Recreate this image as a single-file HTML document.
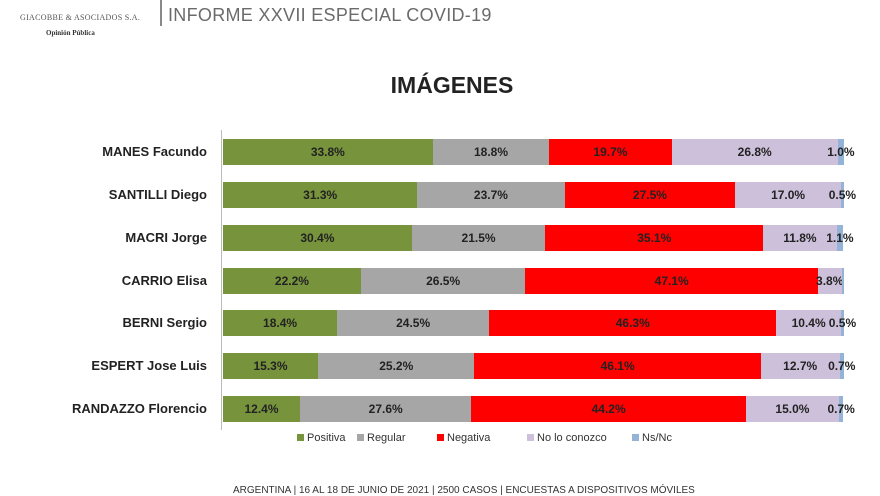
<!DOCTYPE html>
<html><head><meta charset="utf-8"><style>
body{margin:0;width:880px;height:493px;background:#fff;position:relative;overflow:hidden;font-family:"Liberation Sans",sans-serif;}
.hdr{position:absolute;left:168px;top:5px;font-size:18px;color:#6b6b6b;letter-spacing:0.3px}
.vl{position:absolute;left:160px;top:0;width:2px;height:26px;background:#888}
.logo{position:absolute;left:20px;top:13px;font-family:"Liberation Serif",serif;font-size:8px;color:#555;letter-spacing:0.3px}
.logo2{position:absolute;left:46px;top:29px;font-family:"Liberation Serif",serif;font-size:7px;color:#333;font-weight:bold}
.title{position:absolute;left:0;width:904px;text-align:center;top:72px;font-size:23px;font-weight:bold;color:#222}
.axis{position:absolute;left:221px;top:130px;width:1px;height:300px;background:#bbb}
.row{position:absolute;left:223px;width:621px;height:26px;display:flex}
.row div{height:26px;line-height:26px;text-align:center;font-size:12px;font-weight:bold;color:#222;white-space:nowrap;overflow:visible;display:flex;justify-content:center}
.name{position:absolute;right:673px;font-size:13px;font-weight:bold;color:#222;line-height:26px;white-space:nowrap}
.g{background:#77933c}.r{background:#a6a6a6}.n{background:#ff0000}.l{background:#ccc0da}.b{background:#95b3d7}
.leg{position:absolute;top:432px;font-size:11px;color:#333}
.leg span{display:inline-block;width:7px;height:7px;margin-right:3px}
.foot{position:absolute;left:233px;top:485px;font-size:10px;color:#333}
</style></head><body>
<div class="logo">GIACOBBE &amp; ASOCIADOS S.A.</div>
<div class="logo2">Opinión Pública</div>
<div class="vl"></div>
<div class="hdr">INFORME XXVII ESPECIAL COVID-19</div>
<div class="title">IMÁGENES</div>
<div class="axis"></div>

<div class="name" style="top:139px">MANES Facundo</div>
<div class="row" style="top:139px"><div class="g" style="width:33.8%">33.8%</div><div class="r" style="width:18.8%">18.8%</div><div class="n" style="width:19.7%">19.7%</div><div class="l" style="width:26.8%">26.8%</div><div class="b" style="width:1.0%">1.0%</div></div>

<div class="name" style="top:182px">SANTILLI Diego</div>
<div class="row" style="top:182px"><div class="g" style="width:31.3%">31.3%</div><div class="r" style="width:23.7%">23.7%</div><div class="n" style="width:27.5%">27.5%</div><div class="l" style="width:17.0%">17.0%</div><div class="b" style="width:0.5%">0.5%</div></div>

<div class="name" style="top:225px">MACRI Jorge</div>
<div class="row" style="top:225px"><div class="g" style="width:30.4%">30.4%</div><div class="r" style="width:21.5%">21.5%</div><div class="n" style="width:35.1%">35.1%</div><div class="l" style="width:11.8%">11.8%</div><div class="b" style="width:1.1%">1.1%</div></div>

<div class="name" style="top:268px">CARRIO Elisa</div>
<div class="row" style="top:268px"><div class="g" style="width:22.2%">22.2%</div><div class="r" style="width:26.5%">26.5%</div><div class="n" style="width:47.1%">47.1%</div><div class="l" style="width:3.8%">3.8%</div><div class="b" style="width:0.4%"></div></div>

<div class="name" style="top:310px">BERNI Sergio</div>
<div class="row" style="top:310px"><div class="g" style="width:18.4%">18.4%</div><div class="r" style="width:24.5%">24.5%</div><div class="n" style="width:46.3%">46.3%</div><div class="l" style="width:10.4%">10.4%</div><div class="b" style="width:0.5%">0.5%</div></div>

<div class="name" style="top:353px">ESPERT Jose Luis</div>
<div class="row" style="top:353px"><div class="g" style="width:15.3%">15.3%</div><div class="r" style="width:25.2%">25.2%</div><div class="n" style="width:46.1%">46.1%</div><div class="l" style="width:12.7%">12.7%</div><div class="b" style="width:0.7%">0.7%</div></div>

<div class="name" style="top:396px">RANDAZZO Florencio</div>
<div class="row" style="top:396px"><div class="g" style="width:12.4%">12.4%</div><div class="r" style="width:27.6%">27.6%</div><div class="n" style="width:44.2%">44.2%</div><div class="l" style="width:15.0%">15.0%</div><div class="b" style="width:0.7%">0.7%</div></div>

<div class="leg" style="left:297px"><span class="g"></span>Positiva</div>
<div class="leg" style="left:357px"><span class="r"></span>Regular</div>
<div class="leg" style="left:437px"><span class="n"></span>Negativa</div>
<div class="leg" style="left:527px"><span class="l"></span>No lo conozco</div>
<div class="leg" style="left:632px"><span class="b"></span>Ns/Nc</div>
<div class="foot">ARGENTINA | 16 AL 18 DE JUNIO DE 2021 | 2500 CASOS | ENCUESTAS A DISPOSITIVOS MÓVILES</div>
</body></html>
